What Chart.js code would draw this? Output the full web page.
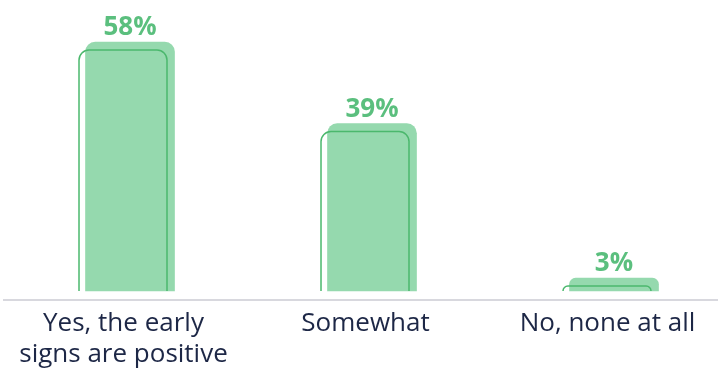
<!DOCTYPE html>
<html>
<head>
<meta charset="utf-8">
<script src="https://cdn.jsdelivr.net/npm/chart.js@4.4.1/dist/chart.umd.min.js"></script>
<style>
  html, body { margin: 0; padding: 0; background: #fff; }
  #wrap { width: 718px; height: 370px; position: relative; }
</style>
</head>
<body>
<div id="wrap"><canvas id="grafico"></canvas></div>
<script>
const categorias = [
  ['Yes, the early', 'signs are positive'],
  'Somewhat',
  'No, none at all'
];
const porcentajes = [58, 39, 3];

const FUENTE = "'Open Sans', 'DejaVu Sans', sans-serif";

// outline drawn behind-left of every filled bar, plus the % label on top
const contornoYEtiquetas = {
  id: 'contornoYEtiquetas',
  afterDatasetsDraw(chart) {
    const c = chart.ctx;
    const meta = chart.getDatasetMeta(0);
    meta.data.forEach((bar, i) => {
      const p = bar.getProps(['x', 'y', 'width', 'base'], true);
      const left = p.x - p.width / 2 - 6.5;
      const right = left + p.width - 1;
      const top = p.y + 8;
      const bottom = p.base;
      const r = Math.min(10, Math.max(0, bottom - top));

      c.save();
      c.strokeStyle = '#4bb86d';
      c.lineWidth = 1.5;
      c.beginPath();
      c.moveTo(left, bottom);
      c.lineTo(left, top + r);
      c.arcTo(left, top, left + r, top, r);
      c.lineTo(right - r, top);
      c.arcTo(right, top, right, top + r, r);
      c.lineTo(right, bottom);
      c.stroke();

      c.fillStyle = '#5bbf7e';
      c.font = 'bold 26px ' + FUENTE;
      c.textAlign = 'center';
      c.textBaseline = 'alphabetic';
      c.fillText(porcentajes[i] + '%', p.x, p.y - 7);
      c.restore();
    });
  }
};

// keep the chart area full width
const sinRelleno = s => { s.paddingLeft = 0; s.paddingRight = 0; };

const ctx = document.getElementById('grafico').getContext('2d');
new Chart(ctx, {
  type: 'bar',
  data: {
    datasets: [{
      data: porcentajes.map((v, i) => ({ x: i, y: v })),
      xAxisID: 'xb',
      backgroundColor: '#95d9ae',
      borderWidth: 0,
      borderRadius: 10,
      borderSkipped: 'start',
      barThickness: 89
    }]
  },
  options: {
    responsive: true,
    maintainAspectRatio: false,
    animation: false,
    layout: { padding: { left: 4, right: 0, top: 0, bottom: 0 } },
    plugins: {
      legend: { display: false },
      tooltip: { enabled: false }
    },
    scales: {
      x: {
        type: 'linear',
        position: 'bottom',
        offset: false,
        min: -0.4938,
        max: 2.4566,
        afterBuildTicks: s => { s.ticks = categorias.map((_, i) => ({ value: i })); },
        afterFit: s => { sinRelleno(s); s.height = 70; },
        grid: { display: false, drawTicks: false },
        border: { display: true, color: '#d8d8de', width: 2 },
        ticks: {
          autoSkip: false,
          maxRotation: 0,
          padding: 8,
          color: '#1d2746',
          font: { family: FUENTE, size: 26, lineHeight: '31px' },
          callback: v => categorias[v]
        }
      },
      xb: {
        type: 'linear',
        display: false,
        offset: false,
        min: -0.5207,
        max: 2.4297,
        afterFit: sinRelleno
      },
      y: {
        display: false,
        min: -2.1,
        max: 67.8
      }
    }
  },
  plugins: [contornoYEtiquetas]
});
</script>
</body>
</html>
